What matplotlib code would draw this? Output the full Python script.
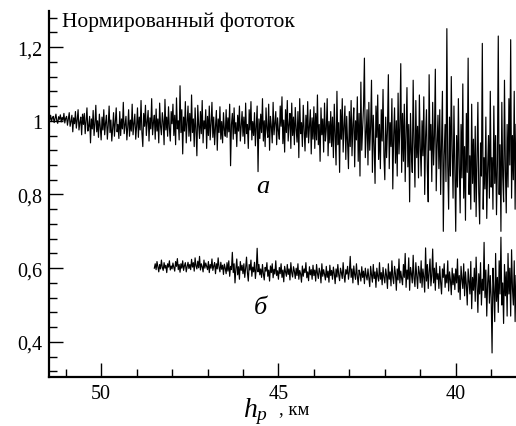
import numpy as np
import matplotlib
matplotlib.use("Agg")
import matplotlib.pyplot as plt
from matplotlib.ticker import MultipleLocator, FixedLocator, FuncFormatter

# === 1. Данные ===
# кривая "а": отсчёты через 0.025 км, начиная с 51.475 км
h_a_start, h_step = 51.475, 0.025
curve_a = [
    1.010, 1.002, 1.015, 0.998, 1.008, 1.012, 0.995, 1.006, 1.018, 1.000, 0.993, 1.011, 1.004, 1.016, 0.997, 1.009, 1.001, 1.020, 0.994, 1.007,
    1.012, 0.988, 1.004, 1.022, 0.985, 0.998, 1.015, 0.970, 1.008, 0.992, 1.025, 0.980, 1.002, 1.030, 0.975, 0.995, 1.010, 0.962, 1.018, 0.990,
    1.020, 0.965, 0.998, 1.035, 0.972, 0.985, 1.012, 0.940, 1.005, 0.978, 1.028, 0.960, 0.992, 1.042, 0.970, 1.000, 0.955, 1.018, 0.982, 0.948,
    1.010, 0.975, 1.030, 0.962, 0.995, 1.015, 0.950, 0.988, 1.040, 0.968, 1.002, 0.945, 0.980, 1.022, 0.958, 0.998, 1.035, 0.970, 0.990, 0.952,
    1.025, 0.960, 1.005, 0.978, 1.050, 0.965, 0.990, 1.012, 0.948, 0.982, 1.030, 0.958, 1.002, 0.972, 1.045, 0.962, 0.992, 1.018, 0.950, 0.985,
    1.035, 0.955, 1.010, 0.975, 1.055, 0.968, 0.930, 1.020, 0.985, 1.042, 0.960, 0.998, 1.028, 0.945, 1.008, 0.978, 1.060, 0.962, 0.995, 1.015,
    0.950, 1.032, 0.972, 1.005, 0.940, 1.048, 0.985, 0.962, 1.022, 0.998, 0.935, 1.058, 0.975, 1.010, 0.958, 1.038, 0.980, 0.945, 1.025, 0.992,
    1.045, 0.960, 1.015, 0.935, 1.062, 0.978, 1.000, 0.948, 1.095, 0.968, 1.030, 0.910, 1.010, 0.972, 1.052, 0.940, 0.995, 1.040, 0.958, 1.020,
    0.945, 1.070, 0.968, 1.005, 0.930, 1.035, 0.975, 0.905, 1.042, 0.988, 0.952, 1.025, 0.965, 1.055, 0.940, 1.000, 0.978, 1.030, 0.925, 1.012,
    0.960, 1.040, 0.948, 0.992, 1.050, 0.955, 1.010, 0.935, 0.985, 1.028, 0.920, 1.005, 0.968, 1.038, 0.950, 0.998, 0.940, 1.022, 0.975, 0.958,
    1.030, 0.955, 1.008, 0.970, 1.045, 0.878, 0.990, 1.020, 0.950, 1.035, 0.965, 0.995, 0.930, 1.015, 0.972, 1.040, 0.945, 0.985, 1.025, 0.958,
    1.010, 0.938, 1.048, 0.965, 0.990, 0.925, 1.030, 0.975, 1.052, 0.948, 0.998, 0.960, 1.022, 0.932, 0.985, 1.040, 0.862, 1.005, 0.952, 1.018,
    0.968, 1.060, 0.945, 1.000, 0.930, 1.035, 0.978, 0.955, 1.045, 0.920, 1.012, 0.985, 0.940, 1.050, 0.962, 0.995, 1.025, 0.935, 1.008, 0.972,
    0.950, 1.040, 0.985, 1.065, 0.938, 1.002, 0.915, 1.030, 0.968, 1.055, 0.945, 0.990, 1.020, 0.925, 1.048, 0.960, 1.010, 0.935, 1.036, 0.978,
    0.942, 1.025, 0.900, 1.060, 0.965, 0.995, 0.930, 1.042, 0.975, 0.918, 1.015, 0.955, 1.052, 0.940, 0.988, 1.030, 0.910, 1.008, 0.950, 1.038,
    0.925, 1.020, 0.948, 1.070, 0.935, 0.990, 0.890, 1.035, 0.962, 1.005, 0.915, 1.048, 0.945, 0.978, 1.060, 0.905, 0.998, 0.940, 1.025, 0.930,
    1.010, 0.900, 1.045, 0.960, 0.880, 1.080, 0.935, 0.995, 0.860, 1.030, 0.950, 1.060, 0.915, 0.985, 1.040, 0.895, 1.012, 0.942, 0.870, 1.025,
    0.930, 1.055, 0.905, 0.990, 1.035, 0.875, 1.000, 0.948, 1.065, 0.890, 1.020, 0.850, 1.105, 0.920, 0.978, 1.040, 1.170, 0.900, 0.965, 1.030,
    0.880, 1.050, 0.920, 0.985, 1.110, 0.860, 1.015, 0.935, 0.830, 1.040, 0.955, 1.070, 0.895, 0.990, 0.870, 1.030, 0.945, 1.085, 0.905, 0.840,
    1.010, 0.900, 0.975, 1.125, 0.870, 0.995, 0.930, 1.060, 0.815, 0.960, 1.035, 0.885, 1.000, 0.850, 1.075, 0.910, 0.980, 1.155, 0.860, 1.020,
    0.890, 1.045, 0.835, 0.960, 1.090, 0.875, 0.990, 0.780, 1.020, 0.915, 0.860, 1.110, 0.940, 0.820, 1.055, 0.900, 0.985, 0.845, 1.070, 0.930,
    0.850, 1.000, 0.905, 1.065, 0.800, 0.955, 1.030, 0.865, 0.780, 1.125, 0.920, 0.990, 0.835, 1.050, 0.880, 0.960, 1.140, 0.810, 0.935, 1.015,
    0.870, 1.030, 0.800, 0.945, 1.080, 0.700, 0.905, 0.990, 0.835, 1.250, 0.880, 0.760, 1.010, 0.850, 1.120, 0.920, 0.790, 1.040, 0.860, 0.700,
    0.960, 0.820, 1.060, 0.880, 0.750, 0.990, 0.845, 1.100, 0.790, 0.930, 0.730, 1.020, 0.860, 1.170, 0.800, 0.905, 0.760, 1.045, 0.830, 0.950,
    0.780, 0.985, 0.740, 0.890, 1.050, 0.805, 0.720, 0.940, 0.850, 1.210, 0.760, 0.900, 0.815, 1.010, 0.735, 0.870, 0.960, 0.790, 1.080, 0.820,
    0.900, 0.760, 1.040, 0.830, 0.960, 0.745, 0.880, 1.230, 0.800, 0.935, 0.700, 1.050, 0.850, 0.780, 1.110, 0.870, 0.750, 0.990, 0.820, 1.060,
    0.880, 1.220, 0.790, 0.960, 0.840, 1.080, 0.760, 0.990,
]

# кривая "б": отсчёты через 0.025 км, начиная с 48.5 км
h_b_start = 48.5
curve_b = [
    0.600, 0.612, 0.596, 0.618, 0.604, 0.590, 0.610, 0.598, 0.622, 0.602, 0.594, 0.615, 0.600, 0.608, 0.588, 0.612, 0.603, 0.620, 0.595, 0.606,
    0.598, 0.614, 0.602, 0.592, 0.618, 0.605, 0.626, 0.596, 0.610, 0.589, 0.612, 0.600, 0.620, 0.594, 0.607, 0.615, 0.590, 0.604, 0.616, 0.599,
    0.610, 0.596, 0.624, 0.603, 0.615, 0.592, 0.628, 0.606, 0.598, 0.619, 0.601, 0.632, 0.595, 0.612, 0.604, 0.590, 0.622, 0.600, 0.614, 0.605,
    0.596, 0.618, 0.588, 0.610, 0.600, 0.625, 0.594, 0.606, 0.615, 0.585, 0.612, 0.598, 0.628, 0.602, 0.590, 0.616, 0.597, 0.608, 0.583, 0.611,
    0.600, 0.585, 0.615, 0.592, 0.620, 0.578, 0.605, 0.596, 0.643, 0.588, 0.612, 0.560, 0.598, 0.625, 0.582, 0.604, 0.570, 0.618, 0.594, 0.608,
    0.585, 0.612, 0.575, 0.600, 0.630, 0.588, 0.565, 0.610, 0.595, 0.622, 0.578, 0.603, 0.590, 0.616, 0.572, 0.598, 0.654, 0.590, 0.610, 0.582,
    0.598, 0.575, 0.610, 0.585, 0.568, 0.602, 0.592, 0.615, 0.578, 0.595, 0.565, 0.606, 0.588, 0.612, 0.574, 0.597, 0.584, 0.620, 0.580, 0.593,
    0.570, 0.602, 0.585, 0.612, 0.575, 0.595, 0.563, 0.605, 0.590, 0.578, 0.610, 0.583, 0.598, 0.568, 0.615, 0.588, 0.576, 0.604, 0.592, 0.572,
    0.600, 0.580, 0.612, 0.570, 0.594, 0.585, 0.562, 0.606, 0.578, 0.598, 0.588, 0.615, 0.574, 0.590, 0.566, 0.604, 0.582, 0.596, 0.570, 0.608,
    0.580, 0.595, 0.565, 0.610, 0.586, 0.572, 0.600, 0.590, 0.560, 0.612, 0.578, 0.596, 0.583, 0.568, 0.605, 0.575, 0.592, 0.562, 0.608, 0.580,
    0.594, 0.570, 0.603, 0.585, 0.558, 0.598, 0.576, 0.610, 0.582, 0.566, 0.600, 0.588, 0.572, 0.615, 0.580, 0.562, 0.596, 0.584, 0.605, 0.570,
    0.590, 0.632, 0.575, 0.598, 0.560, 0.606, 0.582, 0.570, 0.612, 0.578, 0.555, 0.595, 0.585, 0.565, 0.604, 0.575, 0.592, 0.558, 0.600, 0.580,
    0.568, 0.598, 0.575, 0.550, 0.605, 0.582, 0.562, 0.610, 0.572, 0.590, 0.548, 0.600, 0.578, 0.565, 0.615, 0.570, 0.588, 0.555, 0.602, 0.575,
    0.560, 0.598, 0.580, 0.545, 0.612, 0.570, 0.590, 0.552, 0.620, 0.575, 0.558, 0.605, 0.585, 0.540, 0.598, 0.568, 0.625, 0.560, 0.592, 0.572,
    0.555, 0.610, 0.575, 0.640, 0.548, 0.595, 0.570, 0.628, 0.540, 0.602, 0.585, 0.560, 0.635, 0.572, 0.550, 0.615, 0.580, 0.545, 0.605, 0.588,
    0.560, 0.620, 0.548, 0.598, 0.575, 0.535, 0.655, 0.565, 0.610, 0.545, 0.590, 0.625, 0.552, 0.580, 0.652, 0.560, 0.600, 0.540, 0.615, 0.570,
    0.585, 0.545, 0.605, 0.562, 0.530, 0.598, 0.575, 0.612, 0.548, 0.582, 0.560, 0.620, 0.538, 0.590, 0.568, 0.528, 0.600, 0.555, 0.585, 0.542,
    0.598, 0.560, 0.625, 0.535, 0.580, 0.515, 0.605, 0.570, 0.545, 0.612, 0.525, 0.590, 0.555, 0.500, 0.598, 0.565, 0.530, 0.618, 0.490, 0.575,
    0.540, 0.600, 0.510, 0.630, 0.555, 0.480, 0.585, 0.530, 0.615, 0.500, 0.570, 0.540, 0.670, 0.520, 0.595, 0.470, 0.560, 0.610, 0.505, 0.580,
    0.520, 0.370, 0.600, 0.540, 0.455, 0.640, 0.510, 0.575, 0.480, 0.620, 0.530, 0.684, 0.500, 0.560, 0.450, 0.610, 0.525, 0.590, 0.470, 0.640,
    0.530, 0.600, 0.470, 0.650, 0.545, 0.500, 0.620, 0.455, 0.580,
]

h_a = h_a_start - h_step * np.arange(len(curve_a))
h_b = h_b_start - h_step * np.arange(len(curve_b))

y_major = [0.4, 0.6, 0.8, 1.0, 1.2]
x_major = [50, 45, 40]

# === 2. Оформление ===
plt.rcParams["font.family"] = ["Liberation Serif", "DejaVu Serif"]
plt.rcParams["mathtext.fontset"] = "custom"
plt.rcParams["mathtext.rm"] = "Liberation Serif"
plt.rcParams["mathtext.it"] = "Liberation Serif:italic"

fig = plt.figure(figsize=(5.16, 4.27), dpi=100)
ax = fig.add_axes([0.095, 0.115, 0.905, 0.857])

ax.plot(h_a, curve_a, color="black", lw=0.85)
ax.plot(h_b, curve_b, color="black", lw=0.85)

ax.set_xlim(51.47, 38.3)
ax.set_ylim(0.305, 1.298)

ax.spines["top"].set_visible(False)
ax.spines["right"].set_visible(False)
ax.spines["left"].set_linewidth(1.6)
ax.spines["bottom"].set_linewidth(1.6)

ax.yaxis.set_major_locator(FixedLocator(y_major))
ax.yaxis.set_minor_locator(MultipleLocator(0.04))
ax.xaxis.set_major_locator(FixedLocator(x_major))
ax.xaxis.set_minor_locator(MultipleLocator(1))

def comma(v, pos):
    s = ("%.1f" % v).rstrip("0").rstrip(".")
    return s.replace(".", ",")

ax.yaxis.set_major_formatter(FuncFormatter(comma))
ax.tick_params(which="both", direction="in", width=1.0, labelsize=14.5, pad=5)
ax.tick_params(which="major", length=10)
ax.tick_params(which="minor", length=5.5)

ax.text(0.028, 0.972, "Нормированный фототок", transform=ax.transAxes,
        fontsize=15.5, va="center", ha="left")
ax.text(45.45, 0.822, "а", fontsize=19, style="italic", ha="center", va="center")
ax.text(45.5, 0.494, "б", fontsize=19, style="italic", ha="center", va="center")

# подпись оси X: h_p , км
fig.text(0.470, 0.024, r"$h_p$", fontsize=20, ha="left", va="baseline")
fig.text(0.540, 0.030, ", км", fontsize=13.5, ha="left", va="baseline")

# === 3. Сохранение ===
fig.savefig("out.png", dpi=100)
plt.close(fig)
